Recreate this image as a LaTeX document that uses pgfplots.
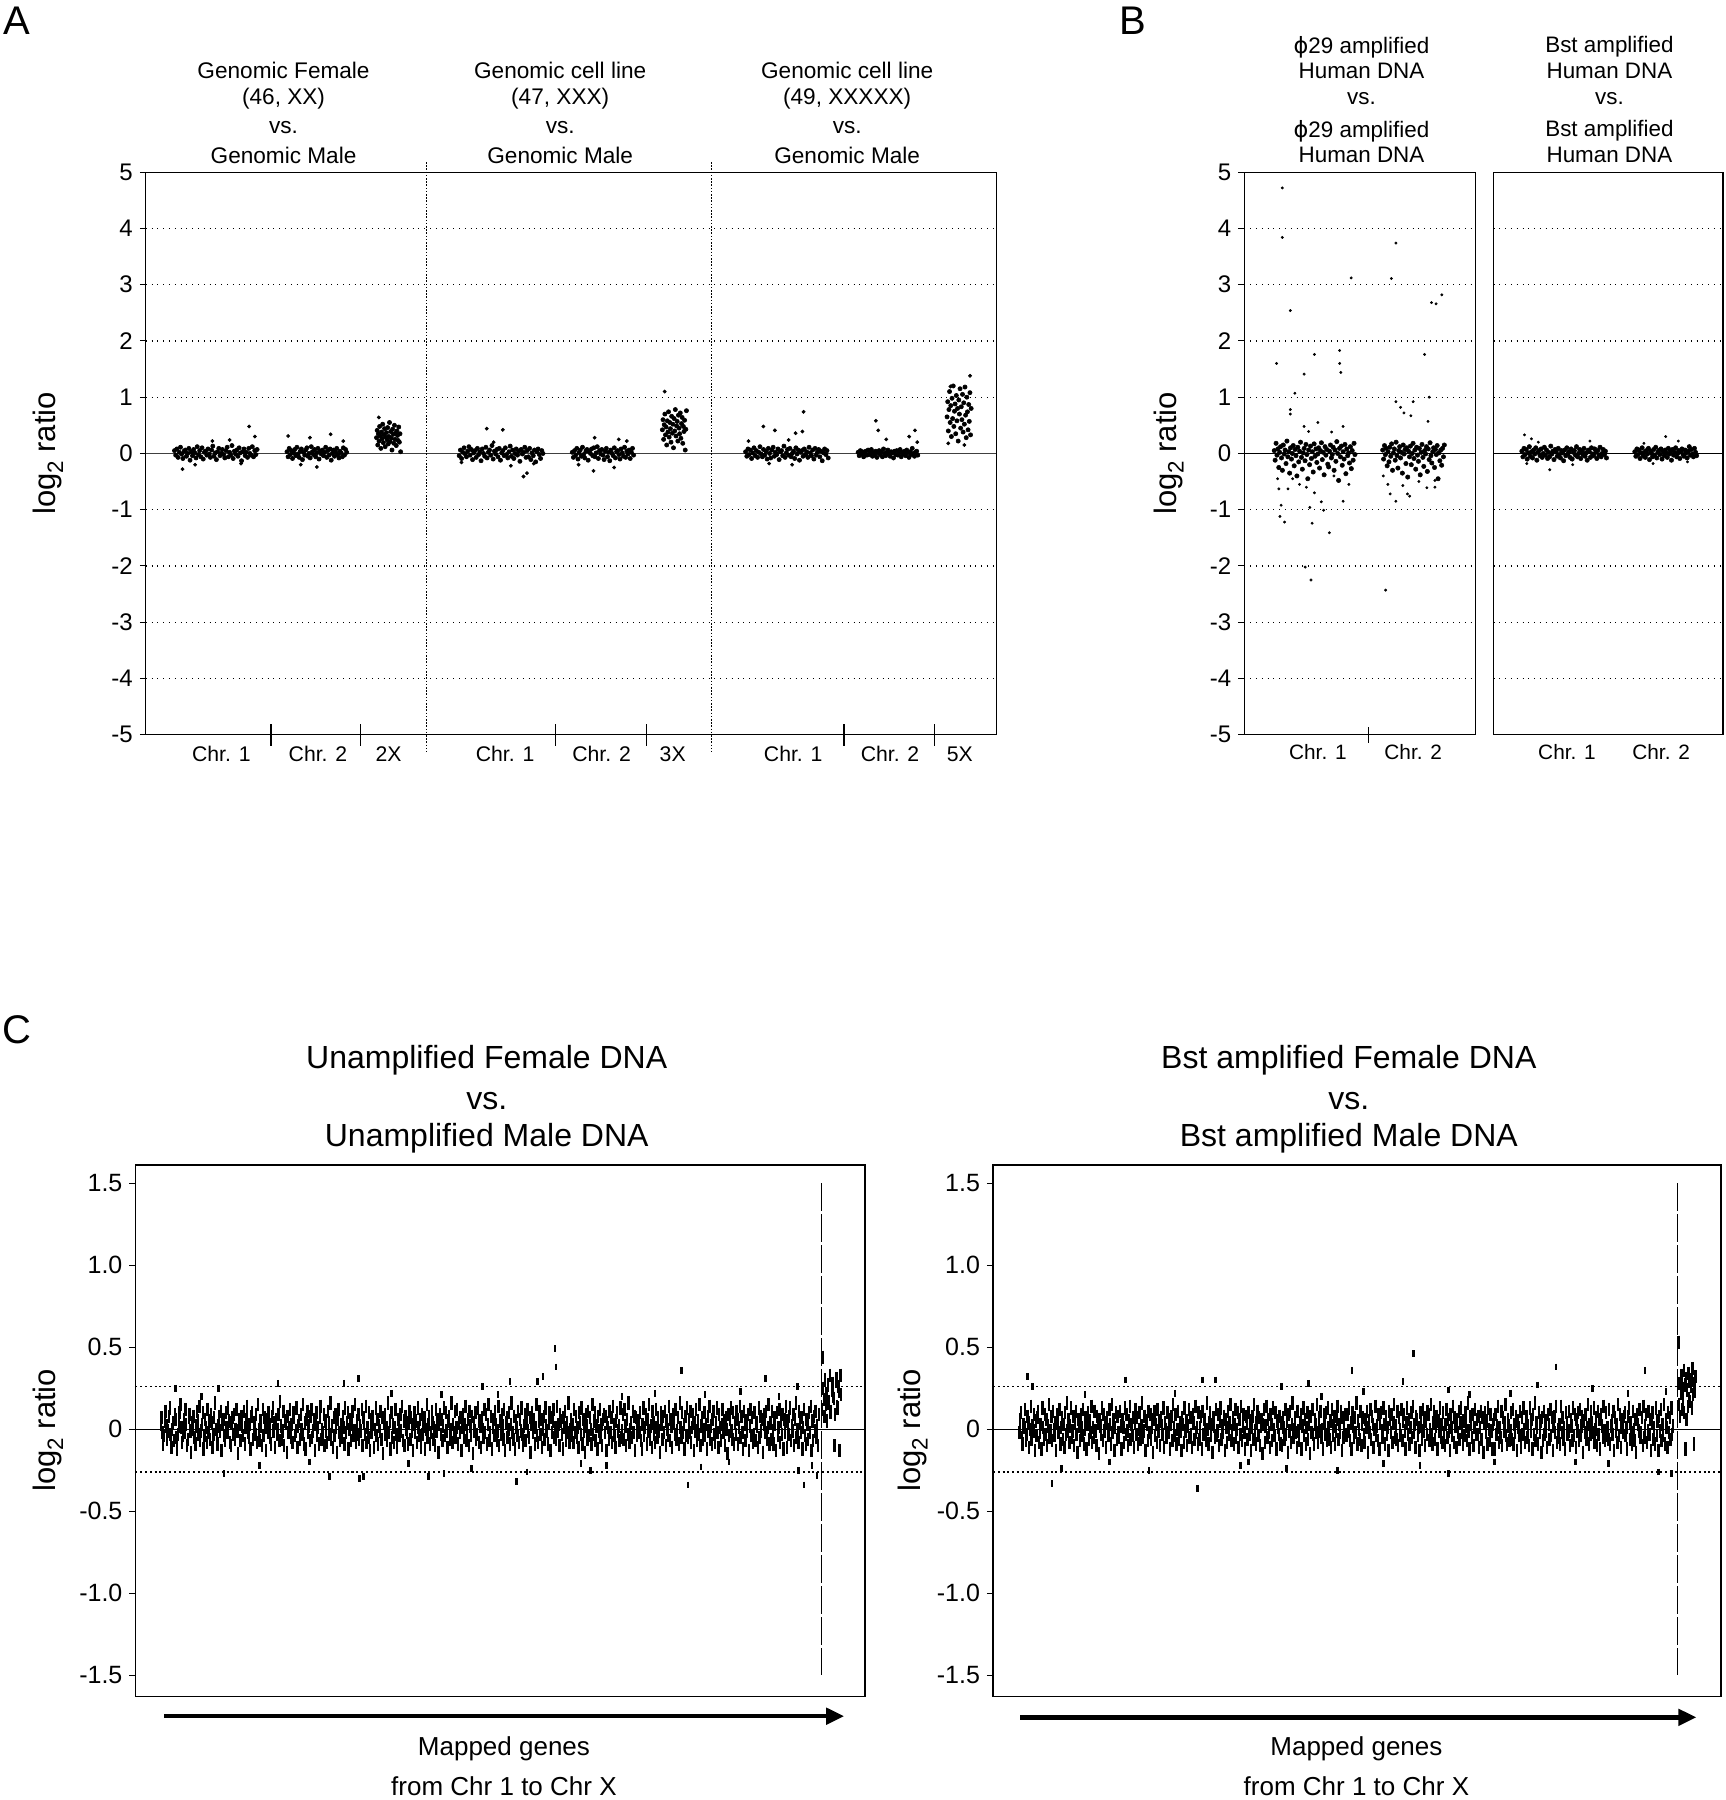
\documentclass[border=0pt]{standalone}
\usepackage{fontspec}
\setmainfont{Liberation Sans}
\newfontfamily\dejavu{DejaVu Sans}
\usepackage{graphicx}
\usepackage{pgfplots}
\pgfplotsset{compat=1.18}
\usetikzlibrary{arrows.meta}

\newcommand\fsz[1]{\fontsize{#1}{#1}\selectfont}
\newcommand\logtwo{log\raisebox{-0.45ex}{\scalebox{0.72}{2}} ratio}
\newcommand\phit{{\dejavu ϕ}}

\tikzset{
  zeroline/.style={black, line width=0.7pt},
  cutline/.style={black, line width=0.7pt, dash pattern=on 1pt off 1.4pt},
  divider/.style={black, line width=0.5pt, dash pattern=on 0.8pt off 0.8pt},
}

% y values are stored in hundredths of a log2 unit
\pgfplotsset{
  dotsA/.style={only marks, mark=*, mark size=1.05pt, line width=0.3pt, mark options={line width=0.3pt}, black},
  spotA/.style={only marks, mark=*, mark size=0.8pt, line width=0.3pt, mark options={line width=0.3pt}, black},
  dotsB/.style={only marks, mark=*, mark size=0.6pt, line width=0.25pt, mark options={line width=0.25pt}, black},
  bandB/.style={only marks, mark=*, mark size=1.1pt, line width=0.25pt, mark options={line width=0.25pt}, black},
  dashC/.style={only marks, mark=|, mark size=3.3pt, line width=1.2pt, mark options={line width=1.2pt}, black},
  spotC/.style={only marks, mark=|, mark size=1.7pt, line width=1.3pt, mark options={line width=1.3pt}, black},
  logpanel/.style={
    scale only axis, anchor=south west, clip=false,
    height=281.19pt,
    ymin=-500, ymax=500,
    ytick={-500,-400,...,500},
    yticklabels={-5,-4,-3,-2,-1,0,1,2,3,4,5},
    xtick=\empty,
    ytick pos=left,
    tick align=outside,
    major tick length=3pt,
    tick style={black, line width=0.5pt},
    axis line style={line width=0.6pt},
    ymajorgrids,
    major grid style={black, line width=0.6pt, dash pattern=on 0.5pt off 2.4pt},
    yticklabel style={font=\fsz{12}},
  },
  genepanel/.style={
    scale only axis, anchor=south west, clip=false,
    height=265.69pt,
    ymin=-163, ymax=161,
    ytick={-150,-100,...,150},
    yticklabels={-1.5,-1.0,-0.5,0,0.5,1.0,1.5},
    xtick=\empty, ytick pos=left, tick align=outside, major tick length=3pt,
    tick style={black, line width=0.6pt},
    axis line style={line width=0.8pt},
    yticklabel style={font=\fsz{12.5}},
  },
}

\begin{document}
\begin{tikzpicture}
\path[use as bounding box] (0,0) rectangle (862.5pt,899.8pt);

% panel letters
\node[font=\fsz{20}] at (8.61pt,889.5pt) {A};
\node[font=\fsz{20}] at (566.4pt,889.5pt) {B};
\node[font=\fsz{20}] at (8.61pt,385.05pt) {C};

% ---------------- panel A ----------------
\node[font=\fsz{11.3}] at (141.74pt,864.79pt) {Genomic Female};
\node[font=\fsz{11.3}] at (141.74pt,850.45pt) {(46, XX)};
\node[font=\fsz{11.3}] at (141.74pt,836.10pt) {vs.};
\node[font=\fsz{11.3}] at (141.74pt,822.33pt) {Genomic Male};
\node[font=\fsz{11.3}] at (280.04pt,864.79pt) {Genomic cell line};
\node[font=\fsz{11.3}] at (280.04pt,850.45pt) {(47, XXX)};
\node[font=\fsz{11.3}] at (280.04pt,836.10pt) {vs.};
\node[font=\fsz{11.3}] at (280.04pt,822.33pt) {Genomic Male};
\node[font=\fsz{11.3}] at (423.50pt,864.79pt) {Genomic cell line};
\node[font=\fsz{11.3}] at (423.50pt,850.45pt) {(49, XXXXX)};
\node[font=\fsz{11.3}] at (423.50pt,836.10pt) {vs.};
\node[font=\fsz{11.3}] at (423.50pt,822.33pt) {Genomic Male};
\node[font=\fsz{15.5}, rotate=90] at (24.1pt,673.13pt) {\logtwo};

\node[font=\fsz{10.6}] at (110.64pt,522.78pt) {Chr. 1};
\node[font=\fsz{10.6}] at (158.96pt,522.78pt) {Chr. 2};
\node[font=\fsz{10.6}] at (194.25pt,522.78pt) {2X};
\node[font=\fsz{10.6}] at (252.49pt,522.78pt) {Chr. 1};
\node[font=\fsz{10.6}] at (300.70pt,522.78pt) {Chr. 2};
\node[font=\fsz{10.6}] at (336.28pt,522.78pt) {3X};
\node[font=\fsz{10.6}] at (396.53pt,522.78pt) {Chr. 1};
\node[font=\fsz{10.6}] at (444.91pt,522.78pt) {Chr. 2};
\node[font=\fsz{10.6}] at (479.85pt,522.78pt) {5X};

\begin{axis}[logpanel, at={(72.88pt,532.53pt)}, width=425.22pt, xmin=127, xmax=868]
\draw[black!75, line width=0.9pt] (axis cs:127,0) -- (axis cs:868,0);
\draw[divider] (axis cs:371.5,518) -- (axis cs:371.5,-530);
\draw[divider] (axis cs:619.5,518) -- (axis cs:619.5,-530);
\draw[line width=0.8pt] (axis cs:236,-520) -- (axis cs:236,-481);
\draw[line width=0.8pt] (axis cs:314,-520) -- (axis cs:314,-481);
\draw[line width=0.8pt] (axis cs:484,-520) -- (axis cs:484,-481);
\draw[line width=0.8pt] (axis cs:563,-520) -- (axis cs:563,-481);
\draw[line width=0.8pt] (axis cs:735,-520) -- (axis cs:735,-481);
\draw[line width=0.8pt] (axis cs:814,-520) -- (axis cs:814,-481);
% 46,XX: chromosome 1, chromosome 2, X
\addplot[dotsA] table[x expr=152+\coordindex*1.043, y=v, row sep=\\] {v\\
5\\-3\\8\\-7\\2\\11\\-1\\-9\\4\\6\\-5\\0\\9\\-12\\3\\-4\\7\\1\\-8\\12\\
-2\\5\\-6\\10\\-10\\2\\4\\-3\\8\\-1\\-7\\6\\13\\-5\\1\\-11\\3\\9\\-4\\0\\
7\\-2\\-8\\5\\11\\-6\\2\\-3\\14\\-9\\4\\-1\\6\\-5\\10\\1\\-13\\3\\8\\-4\\
2\\-7\\9\\0\\-3\\12\\-6\\5\\-2\\7\\};
\addplot[spotA] coordinates {(217,48) (222,30) (159,-28) (185,22) (200,24) (170,-20) (210,-18)};
\addplot[dotsA] table[x expr=250+\coordindex*0.963, y=v, row sep=\\] {v\\
3\\-6\\9\\-2\\5\\-9\\1\\7\\-4\\11\\-1\\-7\\4\\8\\-11\\2\\-3\\6\\10\\-5\\
0\\-8\\12\\3\\-2\\7\\-6\\1\\9\\-10\\4\\-1\\6\\-4\\2\\11\\-7\\5\\-3\\8\\
-12\\0\\6\\-5\\3\\9\\-2\\-8\\4\\1\\-6\\10\\-3\\7\\2\\};
\addplot[spotA] coordinates {(251,31) (288,34) (270,28) (276,-24) (262,-20) (299,22)};
\addplot[dotsA] table[x expr=328+\coordindex*0.538, y=v, row sep=\\] {v\\
28\\41\\15\\35\\22\\48\\31\\9\\38\\26\\52\\19\\33\\44\\12\\29\\37\\24\\46\\17\\
30\\55\\21\\39\\27\\6\\43\\34\\18\\50\\25\\36\\14\\40\\32\\23\\47\\20\\35\\3\\};
\addplot[spotA] coordinates {(330,64)};
% 47,XXX
\addplot[dotsA] table[x expr=400+\coordindex*1.058, y=v, row sep=\\] {v\\
-4\\6\\-9\\2\\10\\-1\\-6\\4\\12\\-3\\7\\-11\\1\\5\\-7\\9\\-2\\3\\-13\\8\\
0\\-5\\11\\-8\\2\\6\\-3\\14\\-10\\4\\-1\\7\\-6\\9\\-12\\1\\5\\-4\\10\\-2\\
-8\\3\\13\\-5\\6\\-9\\0\\8\\-3\\4\\-14\\7\\-1\\2\\11\\-7\\5\\-6\\9\\-11\\
1\\-4\\6\\-15\\3\\8\\-2\\-9\\5\\0\\};
\addplot[spotA] coordinates {(424,44) (438,42) (456,-41) (459,-35) (402,-16) (445,-22) (465,-18) (430,20)};
\addplot[dotsA] table[x expr=498.5+\coordindex*0.99, y=v, row sep=\\] {v\\
2\\-7\\5\\-3\\9\\-10\\1\\6\\-5\\11\\-2\\-8\\4\\7\\-12\\3\\0\\8\\-4\\10\\
-6\\1\\12\\-9\\5\\-1\\7\\-3\\-11\\4\\9\\-6\\2\\-13\\6\\0\\-4\\10\\-8\\3\\
5\\-2\\-10\\8\\1\\-5\\11\\-7\\4\\-1\\6\\-9\\2\\9\\-3\\};
\addplot[spotA] coordinates {(517,-31) (535,-25) (518,28) (539,25) (546,22) (504,-20)};
\addplot[dotsA] table[x expr=577+\coordindex*0.538, y=v, row sep=\\] {v\\
42\\60\\25\\51\\70\\33\\47\\15\\58\\38\\74\\29\\55\\44\\20\\66\\36\\52\\10\\62\\
40\\78\\31\\49\\57\\22\\68\\45\\35\\72\\27\\53\\64\\18\\48\\39\\59\\6\\43\\76\\};
\addplot[spotA] coordinates {(579,110)};
% 49,XXXXX
\addplot[dotsA] table[x expr=649.5+\coordindex*1.043, y=v, row sep=\\] {v\\
3\\-5\\8\\-2\\6\\-9\\1\\10\\-4\\5\\-7\\2\\12\\-1\\-6\\7\\-3\\4\\-10\\9\\
0\\-8\\6\\11\\-5\\2\\-2\\8\\-11\\3\\5\\-4\\13\\-7\\1\\7\\-3\\9\\-6\\0\\
4\\-9\\10\\-1\\6\\-12\\2\\5\\-5\\8\\-2\\3\\-7\\11\\1\\-4\\6\\-10\\9\\-3\\
2\\7\\-6\\4\\-13\\1\\8\\-2\\5\\-8\\};
\addplot[spotA] coordinates {(700,74) (665,48) (675,41) (699,39) (693,36) (652,22) (687,24) (670,-18) (690,-20)};
\addplot[dotsA] table[x expr=747.5+\coordindex*0.963, y=v, row sep=\\] {v\\
2\\-4\\5\\-1\\3\\-6\\1\\4\\-3\\6\\-2\\0\\7\\-5\\2\\-3\\4\\-7\\1\\5\\
-2\\3\\-6\\8\\0\\-4\\2\\6\\-1\\-5\\3\\1\\-8\\4\\-2\\5\\-3\\0\\7\\-6\\
2\\-1\\4\\-4\\6\\1\\-7\\3\\-2\\9\\0\\-5\\2\\4\\-3\\};
\addplot[spotA] coordinates {(763,58) (765,41) (797,41) (772,25) (792,30) (799,20)};
\addplot[dotsA] table[x expr=825+\coordindex*0.538, y=v, row sep=\\] {v\\
65\\92\\40\\78\\110\\55\\85\\30\\98\\62\\120\\48\\75\\88\\35\\103\\58\\80\\22\\95\\
70\\115\\45\\83\\60\\105\\38\\90\\52\\118\\68\\28\\100\\74\\42\\87\\57\\108\\33\\80\\};
\addplot[spotA] coordinates {(845,138) (828,119) (826,18) (840,15)};
\end{axis}

% ---------------- panel B ----------------
\node[font=\fsz{11.2}] at (680.59pt,876.27pt) {\phit29 amplified};
\node[font=\fsz{11.2}] at (680.59pt,864.22pt) {Human DNA};
\node[font=\fsz{11.2}] at (680.59pt,850.45pt) {vs.};
\node[font=\fsz{11.2}] at (680.59pt,834.38pt) {\phit29 amplified};
\node[font=\fsz{11.2}] at (680.59pt,822.33pt) {Human DNA};
\node[font=\fsz{11.2}] at (804.54pt,876.27pt) {Bst amplified};
\node[font=\fsz{11.2}] at (804.54pt,864.22pt) {Human DNA};
\node[font=\fsz{11.2}] at (804.54pt,850.45pt) {vs.};
\node[font=\fsz{11.2}] at (804.54pt,834.38pt) {Bst amplified};
\node[font=\fsz{11.2}] at (804.54pt,822.33pt) {Human DNA};
\node[font=\fsz{15.5}, rotate=90] at (584.18pt,673.13pt) {\logtwo};
\node[font=\fsz{10.4}] at (658.78pt,523.93pt) {Chr. 1};
\node[font=\fsz{10.4}] at (706.41pt,523.93pt) {Chr. 2};
\node[font=\fsz{10.4}] at (783.30pt,523.93pt) {Chr. 1};
\node[font=\fsz{10.4}] at (830.37pt,523.93pt) {Chr. 2};

\begin{axis}[logpanel, at={(622.05pt,532.53pt)}, width=115.34pt, xmin=1084, xmax=1285]
\draw[zeroline] (axis cs:1084,0) -- (axis cs:1285,0);
\draw[line width=0.8pt] (axis cs:1192,-514) -- (axis cs:1192,-486);
\addplot[bandB] table[x expr=1110+\coordindex*0.79, y=v, row sep=\\] {v\\
5\\-12\\18\\-3\\8\\-25\\2\\12\\-8\\-30\\15\\-1\\6\\-18\\22\\-6\\3\\-35\\10\\-10\\
0\\14\\-22\\7\\-4\\-40\\11\\-15\\4\\20\\-7\\-28\\1\\9\\-13\\16\\-2\\-45\\6\\-20\\
13\\-9\\3\\-33\\17\\-5\\8\\-16\\-1\\10\\-26\\5\\19\\-11\\2\\-38\\12\\-3\\7\\-19\\
-24\\4\\15\\-8\\-2\\11\\-30\\6\\-14\\21\\0\\-48\\9\\-6\\13\\-21\\3\\-10\\16\\-36\\
8\\-4\\1\\-17\\12\\-27\\5\\-12\\18\\-2\\};
\addplot[dotsB] coordinates {(1117,472) (1117,384) (1124,254) (1112,160) (1145,176) (1136,141)
 (1128,107) (1124,78) (1124,70) (1177,312) (1167,183) (1167,160) (1168,144) (1148,55) (1136,48)
 (1140,39) (1170,48) (1160,38) (1113,-45) (1114,-63) (1116,-92) (1115,-112) (1119,-122) (1122,-63)
 (1137,-202) (1142,-225) (1158,-141) (1143,-124) (1141,-96) (1151,-86) (1153,-101) (1170,-85)
 (1138,-60) (1145,-70) (1132,-55) (1126,-45) (1175,-55) (1162,-40)};
\addplot[bandB] table[x expr=1204.5+\coordindex*0.778, y=v, row sep=\\] {v\\
6\\-10\\14\\-2\\9\\-22\\3\\-15\\11\\-5\\17\\-30\\1\\8\\-12\\20\\-4\\-26\\5\\12\\
-8\\2\\-35\\15\\-1\\7\\-18\\10\\-42\\4\\-6\\13\\-20\\0\\18\\-9\\6\\-28\\11\\-3\\
-14\\9\\-38\\2\\16\\-7\\-23\\5\\-1\\12\\-32\\8\\-11\\19\\-4\\-17\\3\\10\\-25\\7\\
-2\\14\\-45\\1\\-13\\6\\-21\\9\\-6\\15\\};
\addplot[dotsB] coordinates {(1216,374) (1212,311) (1247,268) (1251,266) (1256,282) (1241,176)
 (1245,100) (1216,92) (1220,82) (1231,92) (1223,72) (1229,67) (1244,57) (1207,-243) (1211,-72)
 (1216,-85) (1226,-72) (1228,-76) (1243,-61) (1209,-55) (1222,-57) (1250,-60) (1236,-50)
 (1250,-48) (1205,-40)};
\end{axis}

\begin{axis}[logpanel, at={(746.58pt,532.53pt)}, width=114.77pt, xmin=1301, xmax=1501,
  yticklabels={}, major tick length=0pt]
\draw[zeroline] (axis cs:1301,0) -- (axis cs:1501,0);
\addplot[bandB] table[x expr=1325.7+\coordindex*0.933, y=v, row sep=\\] {v\\
4\\-6\\9\\-2\\7\\-10\\1\\12\\-5\\3\\-8\\6\\-1\\10\\-12\\2\\5\\-4\\8\\-7\\
0\\11\\-3\\6\\-9\\2\\-6\\13\\-1\\4\\-11\\7\\3\\-5\\9\\-2\\-8\\5\\1\\-13\\
6\\-4\\10\\-1\\3\\-7\\8\\-10\\2\\5\\-3\\12\\-6\\0\\7\\-9\\4\\-2\\9\\-5\\
1\\-12\\6\\3\\-7\\10\\-1\\-4\\8\\2\\-9\\5\\-3\\11\\-6\\0\\7\\-2\\4\\-8\\};
\addplot[dotsB] coordinates {(1328,33) (1334,26) (1340,20) (1350,-29) (1330,-18) (1385,22) (1370,-20)};
\addplot[bandB] table[x expr=1424.1+\coordindex*0.912, y=v, row sep=\\] {v\\
3\\-5\\8\\-2\\6\\-9\\1\\10\\-4\\2\\-7\\5\\-1\\9\\-11\\4\\0\\-6\\7\\-3\\
11\\-8\\2\\5\\-2\\8\\-10\\3\\-4\\6\\1\\-7\\9\\-1\\4\\-12\\7\\-3\\2\\10\\
-6\\0\\5\\-9\\3\\8\\-2\\-5\\6\\1\\-8\\4\\12\\-3\\7\\-1\\-6\\9\\2\\-4\\};
\addplot[dotsB] coordinates {(1451,30) (1432,18) (1462,22) (1440,-18) (1470,-15)};
\end{axis}

% ---------------- panel C ----------------
\node[font=\fsz{16}] at (243.31pt,369.6pt) {Unamplified Female DNA};
\node[font=\fsz{16}] at (243.31pt,349.6pt) {vs.};
\node[font=\fsz{16}] at (243.31pt,330.6pt) {Unamplified Male DNA};
\node[font=\fsz{16}] at (674.27pt,369.6pt) {Bst amplified Female DNA};
\node[font=\fsz{16}] at (674.27pt,349.6pt) {vs.};
\node[font=\fsz{16}] at (674.27pt,330.6pt) {Bst amplified Male DNA};
\node[font=\fsz{15.5}, rotate=90] at (24.1pt,184.78pt) {\logtwo};
\node[font=\fsz{15.5}, rotate=90] at (456.21pt,184.78pt) {\logtwo};

\draw[line width=2.2pt, -{Triangle[length=9pt,width=8pt]}] (82.06pt,41.89pt) -- (422.01pt,41.89pt);
\draw[line width=2.2pt, -{Triangle[length=9pt,width=8pt]}] (509.92pt,41.32pt) -- (848.04pt,41.32pt);
\node[font=\fsz{13}] at (251.92pt,25.82pt) {Mapped genes};
\node[font=\fsz{13}] at (251.92pt,6.9pt) {from Chr 1 to Chr X};
\node[font=\fsz{13}] at (678.06pt,25.82pt) {Mapped genes};
\node[font=\fsz{13}] at (678.06pt,6.9pt) {from Chr 1 to Chr X};

% genes are plotted in genome order; 800 autosomal genes span 0..500 on x
\begin{axis}[genepanel, at={(67.71pt,51.65pt)}, width=364.68pt, xmin=-19.16, xmax=534.3]
\draw[zeroline] (axis cs:-19.16,0) -- (axis cs:534.3,0);
\draw[cutline] (axis cs:-19.16,26) -- (axis cs:534.3,26);
\draw[cutline] (axis cs:-19.16,-26) -- (axis cs:534.3,-26);
\draw[black, line width=0.6pt, dash pattern=on 14pt off 1.5pt] (axis cs:501.1,150) -- (axis cs:501.1,-150);
\addplot[dashC] table[x expr=\coordindex*0.625, y=v, row sep=\\] {v\\
3\\7\\-2\\-9\\-4\\5\\11\\2\\-6\\-1\\8\\13\\-3\\-11\\0\\4\\-7\\9\\6\\-5\\
-12\\-3\\2\\10\\15\\1\\-8\\-4\\6\\-2\\12\\3\\-10\\-6\\7\\9\\-1\\-14\\4\\0\\
8\\-5\\-9\\2\\11\\5\\-3\\14\\-7\\-1\\3\\10\\-12\\-4\\6\\1\\-8\\12\\-2\\5\\
-6\\9\\4\\-11\\-3\\7\\16\\0\\-5\\-9\\2\\8\\-1\\11\\-13\\3\\6\\-4\\-7\\10\\
1\\-2\\13\\5\\-8\\-10\\4\\7\\-3\\9\\-6\\0\\12\\-1\\-15\\6\\3\\-7\\8\\2\\
-4\\11\\-9\\1\\6\\14\\-2\\-5\\3\\-12\\8\\10\\-6\\-1\\4\\-3\\9\\-8\\15\\0\\
-7\\5\\2\\-10\\12\\-4\\7\\1\\-13\\6\\-2\\10\\3\\-5\\-9\\8\\13\\-1\\4\\-11\\
6\\-3\\0\\9\\-7\\17\\2\\-6\\-1\\11\\-10\\5\\4\\-14\\8\\-2\\1\\12\\-5\\3\\
-8\\10\\7\\-4\\-1\\13\\-11\\2\\5\\-6\\9\\0\\-3\\15\\-9\\4\\-12\\6\\11\\-2\\
2\\-7\\8\\12\\-5\\-1\\6\\-13\\3\\10\\-4\\1\\-9\\7\\14\\-6\\0\\-2\\9\\-10\\
5\\-1\\-8\\11\\4\\-3\\16\\-6\\2\\-11\\7\\-4\\9\\1\\-14\\6\\12\\-2\\-7\\3\\
-5\\8\\1\\-9\\13\\-2\\4\\10\\-12\\0\\6\\-7\\3\\11\\-4\\-1\\15\\-8\\5\\-3\\
9\\-6\\2\\-1\\12\\-10\\7\\4\\-3\\14\\-8\\1\\-5\\10\\-13\\6\\-2\\8\\3\\-11\\
0\\13\\-4\\6\\-9\\2\\-1\\11\\-6\\7\\-15\\4\\9\\-3\\1\\-7\\16\\-2\\5\\-12\\
10\\-5\\3\\-8\\1\\12\\-3\\-11\\6\\2\\-4\\9\\-1\\14\\-7\\5\\-10\\8\\0\\-2\\
-9\\4\\11\\-6\\7\\-1\\-13\\3\\10\\-2\\5\\-8\\13\\1\\-4\\6\\-11\\9\\-3\\2\\
7\\-12\\0\\15\\-5\\3\\8\\-9\\-2\\11\\4\\-6\\1\\-10\\12\\-1\\6\\-14\\3\\9\\
-3\\6\\-7\\2\\13\\-4\\10\\-1\\-11\\5\\8\\-6\\0\\16\\-8\\3\\-2\\11\\-5\\1\\
12\\-9\\4\\-2\\7\\-13\\1\\9\\-5\\3\\14\\-7\\-1\\6\\-10\\11\\2\\-4\\8\\-15\\
4\\-1\\10\\-6\\-3\\13\\-8\\5\\2\\-11\\7\\0\\-5\\12\\-2\\9\\-9\\3\\15\\-7\\
-2\\8\\-12\\1\\6\\-4\\11\\3\\-7\\-1\\14\\-10\\5\\-3\\9\\2\\-6\\12\\-13\\4\\
7\\-5\\0\\10\\-9\\3\\16\\-2\\-6\\8\\-12\\5\\1\\-4\\11\\-8\\6\\-1\\13\\-3\\
-10\\2\\9\\-7\\4\\12\\-1\\-5\\7\\-14\\3\\10\\-2\\6\\-9\\1\\15\\-4\\-8\\5\\
11\\-3\\6\\-11\\0\\8\\-6\\13\\2\\-1\\-9\\4\\10\\-13\\7\\-2\\5\\12\\-5\\1\\
-6\\14\\-1\\3\\-10\\9\\5\\-3\\-12\\7\\1\\11\\-7\\4\\-2\\16\\-8\\0\\6\\-4\\
3\\-8\\12\\-2\\8\\-5\\1\\-11\\10\\4\\-3\\13\\-9\\6\\-1\\-14\\9\\2\\-6\\11\\
-4\\7\\0\\-9\\15\\-3\\5\\10\\-7\\2\\-12\\8\\-1\\12\\-5\\3\\-10\\6\\9\\-2\\
8\\-13\\4\\1\\-6\\11\\-2\\7\\-8\\14\\3\\-4\\-11\\5\\10\\-1\\2\\-7\\13\\-5\\
-1\\9\\-6\\12\\2\\-10\\6\\-3\\16\\-8\\0\\4\\-5\\11\\-2\\8\\-13\\7\\-4\\3\\
5\\-2\\10\\-7\\-12\\3\\13\\-4\\1\\9\\-9\\6\\-1\\15\\-6\\2\\-11\\11\\4\\-3\\
-8\\12\\1\\-5\\7\\-1\\-14\\10\\3\\-6\\8\\-2\\11\\-10\\5\\0\\-4\\14\\-7\\6\\
2\\-11\\9\\4\\-3\\12\\-6\\-1\\7\\-9\\16\\1\\-5\\10\\-2\\3\\-12\\8\\-4\\13\\
-5\\6\\-2\\11\\-8\\1\\9\\-13\\4\\-1\\12\\-7\\5\\-3\\15\\-10\\2\\7\\-6\\0\\
10\\-4\\3\\-12\\8\\-1\\14\\-6\\2\\-9\\6\\11\\-3\\-8\\4\\13\\-2\\-11\\9\\1\\
-7\\3\\12\\-2\\5\\-10\\7\\0\\-15\\9\\-4\\6\\13\\-1\\-6\\10\\-9\\4\\-3\\11\\
6\\-9\\1\\14\\-5\\8\\-2\\-12\\11\\3\\-7\\5\\-1\\9\\-13\\2\\12\\-4\\7\\-8\\
-3\\10\\-7\\4\\2\\-11\\13\\-5\\8\\-1\\6\\-14\\9\\3\\-2\\11\\-6\\1\\15\\-9\\
4\\-6\\11\\-1\\-9\\7\\3\\-13\\10\\-4\\1\\12\\-8\\5\\-3\\9\\-12\\6\\-2\\14\\
-11\\5\\-3\\8\\13\\-7\\2\\-1\\9\\-10\\6\\16\\-5\\0\\-8\\11\\4\\-2\\7\\-12\\
1\\12\\-4\\-9\\6\\3\\-6\\10\\-2\\14\\-13\\5\\-7\\8\\-1\\11\\-5\\2\\-10\\9\\};
\addplot[spotC] coordinates {(299,49) (300,38) (395,36) (459,31) (286,29) (290,32) (150,31) (139,28)
 (89,28) (11,25) (44,25) (265,29) (244,26) (483,26) (440,23) (48,-27) (128,-29) (154,-29) (203,-29)
 (236,-24) (278,-26) (326,-25) (410,-23) (484,-25) (400,-34) (488,-34) (270,-32) (151,-30) (215,-27)
 (75,-22) (175,22) (213,21) (319,-21) (375,22) (431,-20) (350,20) (31,20) (113,-20) (188,-21)
 (256,21) (338,-22) (413,21) (469,20) (494,-22) (498,-28)};
% X chromosome genes
\addplot[dashC] coordinates {(501.6,12) (502.1,25) (502.6,44) (503.1,18) (503.6,8) (504.1,30)
 (504.6,15) (505.1,22) (505.6,5) (506.1,27) (506.6,16) (507.1,17) (507.6,33) (508.1,10) (508.6,11)
 (509.1,24) (509.6,28) (510.1,20) (510.6,19) (511.1,-10) (511.6,9) (512.1,29) (512.6,31) (513.1,14)
 (513.6,13) (514.1,26) (514.6,23) (515.1,-13) (515.6,33) (516.1,21)};
\end{axis}

\begin{axis}[genepanel, at={(496.38pt,51.65pt)}, width=363.82pt, xmin=-20.17, xmax=535.8]
\draw[zeroline] (axis cs:-20.17,0) -- (axis cs:535.8,0);
\draw[cutline] (axis cs:-20.17,26) -- (axis cs:535.8,26);
\draw[cutline] (axis cs:-20.17,-26) -- (axis cs:535.8,-26);
\draw[black, line width=0.6pt, dash pattern=on 14pt off 1.5pt] (axis cs:502.5,150) -- (axis cs:502.5,-150);
\addplot[dashC] table[x expr=\coordindex*0.625, y=v, row sep=\\] {v\\
-2\\6\\10\\-5\\-9\\3\\1\\12\\-7\\-3\\8\\4\\-11\\0\\14\\-6\\2\\-1\\9\\-13\\
5\\-4\\7\\11\\-8\\-2\\3\\-12\\13\\1\\-6\\9\\-3\\6\\-10\\2\\15\\-5\\-1\\8\\
-7\\11\\0\\-4\\4\\-13\\9\\5\\-2\\12\\-9\\1\\7\\-6\\3\\-11\\10\\-3\\16\\-1\\
6\\-8\\2\\13\\-5\\-1\\8\\-10\\4\\11\\-3\\-14\\6\\2\\-7\\9\\1\\-4\\12\\-9\\
0\\7\\-12\\3\\10\\-6\\5\\-2\\14\\-8\\1\\-5\\11\\-1\\-10\\8\\4\\-15\\6\\2\\
-3\\13\\-7\\9\\-1\\4\\-11\\7\\0\\-4\\12\\3\\-9\\15\\-2\\6\\-13\\1\\10\\-6\\
8\\-2\\-5\\11\\2\\-12\\6\\1\\-8\\13\\-3\\9\\-1\\-10\\5\\14\\-6\\3\\-4\\7\\
-11\\4\\12\\-3\\7\\-9\\0\\10\\-6\\2\\16\\-5\\-1\\8\\-13\\5\\3\\-7\\11\\-2\\
9\\-6\\1\\-14\\6\\11\\-4\\3\\-8\\12\\-1\\5\\-10\\7\\2\\-3\\13\\-11\\4\\0\\
-5\\10\\-2\\6\\-12\\3\\8\\-7\\15\\1\\-4\\9\\-9\\0\\11\\-6\\4\\-1\\-13\\7\\
3\\-8\\13\\-1\\5\\-10\\2\\12\\-5\\7\\-3\\-11\\9\\4\\-6\\14\\-2\\1\\-9\\10\\
-6\\1\\8\\-12\\11\\-3\\6\\-1\\-7\\16\\0\\-9\\4\\10\\-4\\3\\-14\\7\\2\\-5\\
12\\-4\\-1\\9\\-10\\5\\13\\-6\\2\\-2\\8\\-13\\6\\1\\-8\\11\\-3\\4\\15\\-7\\
-1\\7\\-9\\3\\12\\-5\\0\\10\\-11\\6\\-3\\14\\-7\\2\\9\\-2\\-12\\8\\4\\-6\\
10\\-3\\5\\-13\\1\\8\\-6\\15\\-1\\-9\\4\\11\\-4\\7\\-10\\2\\6\\-15\\3\\12\\
-8\\2\\14\\-5\\6\\-2\\-11\\9\\3\\-7\\13\\0\\-4\\10\\-12\\5\\1\\-3\\8\\-9\\
4\\-10\\7\\1\\-6\\12\\-3\\5\\-14\\9\\-1\\11\\-8\\3\\16\\-5\\0\\7\\-2\\-11\\
11\\-1\\-7\\4\\9\\-12\\2\\13\\-4\\6\\-9\\1\\10\\-6\\3\\-15\\8\\-2\\12\\-3\\
-9\\6\\3\\-2\\15\\-8\\7\\-1\\11\\-5\\0\\-12\\9\\4\\-3\\10\\-7\\13\\1\\-6\\
5\\-11\\12\\-4\\2\\8\\-9\\-1\\6\\14\\-6\\3\\-2\\11\\-13\\7\\-5\\1\\9\\-3\\
-4\\9\\-1\\13\\-7\\4\\-12\\10\\2\\-5\\7\\-2\\16\\-9\\5\\0\\-6\\11\\-10\\3\\
7\\-3\\-8\\6\\1\\11\\-14\\5\\-2\\12\\-6\\8\\3\\-11\\0\\14\\-4\\2\\-7\\9\\
-12\\4\\10\\-1\\-5\\13\\3\\-9\\8\\-3\\1\\-13\\11\\6\\-2\\9\\-8\\4\\15\\-5\\
2\\-6\\11\\-10\\7\\0\\-4\\12\\-7\\5\\9\\-1\\-12\\4\\13\\-3\\6\\-9\\1\\10\\
-5\\14\\-2\\3\\-11\\8\\6\\-4\\1\\-13\\10\\2\\-6\\12\\-1\\7\\-10\\5\\-3\\11\\
9\\-7\\0\\15\\-3\\-9\\4\\11\\-6\\2\\8\\-12\\5\\-1\\13\\-5\\3\\-8\\10\\-2\\
-10\\3\\12\\-5\\6\\-1\\-13\\9\\1\\-4\\14\\-8\\7\\2\\-11\\6\\-2\\11\\-6\\4\\
13\\-2\\-9\\5\\-4\\10\\2\\-7\\16\\-1\\-12\\8\\3\\-5\\9\\-10\\1\\12\\-3\\6\\
-3\\8\\-11\\1\\11\\-6\\7\\-14\\4\\10\\-2\\5\\-9\\13\\0\\-7\\9\\-1\\-12\\3\\
6\\-12\\9\\-3\\2\\14\\-8\\1\\-5\\11\\-10\\7\\-1\\4\\15\\-4\\-9\\6\\2\\-7\\
-1\\10\\-6\\12\\-9\\3\\-2\\8\\-13\\5\\1\\-4\\11\\-11\\7\\-3\\13\\0\\-8\\4\\
8\\-5\\2\\-10\\13\\-1\\6\\-12\\9\\-3\\16\\-7\\4\\1\\-9\\10\\-2\\5\\-14\\7\\
-7\\11\\-3\\5\\-1\\-11\\9\\3\\-6\\12\\-4\\7\\-13\\2\\8\\-2\\14\\-8\\0\\-5\\
3\\-9\\14\\-2\\7\\-6\\1\\-12\\10\\4\\-3\\-1\\11\\-10\\6\\2\\-7\\13\\-4\\9\\
-11\\6\\-1\\10\\-7\\12\\-4\\2\\8\\-14\\5\\-2\\9\\-6\\1\\15\\-9\\3\\-3\\11\\
4\\-2\\13\\-8\\0\\7\\-10\\11\\-3\\6\\-12\\9\\2\\-5\\14\\-1\\-7\\10\\-4\\1\\
-6\\12\\-9\\2\\5\\-3\\11\\-13\\7\\-1\\3\\-8\\15\\-4\\9\\-11\\1\\6\\-2\\8\\
10\\-4\\1\\-12\\8\\13\\-6\\4\\-2\\-9\\11\\0\\-7\\6\\-14\\9\\3\\-1\\12\\-5\\
-2\\7\\-10\\14\\-5\\2\\9\\-8\\-1\\11\\-3\\6\\-13\\4\\10\\-6\\1\\-9\\13\\-4\\
5\\-13\\8\\-1\\12\\-7\\3\\-4\\15\\-9\\6\\1\\-11\\10\\-2\\7\\-6\\13\\-3\\2\\};
\addplot[spotC] coordinates {(301,46) (410,38) (478,36) (254,36) (6,32) (81,30) (140,30) (150,30)
 (221,28) (293,29) (396,27) (10,26) (200,26) (328,24) (438,25) (32,-24) (99,-25) (204,-24) (243,-25)
 (328,-27) (488,-26) (25,-33) (136,-36) (498,-27) (69,-20) (169,-22) (278,-21) (363,-20) (375,22)
 (50,21) (119,22) (231,20) (344,21) (450,-21) (465,22) (175,-20) (263,23) (306,-22) (425,-20) (494,23)};
% X chromosome genes
\addplot[dashC] coordinates {(503.4,53) (503.9,15) (504.3,28) (504.8,8) (505.2,22) (505.7,33)
 (506.1,12) (506.6,25) (507.0,18) (507.5,36) (507.9,10) (508.4,27) (508.8,-12) (509.3,31) (509.7,6)
 (510.2,24) (510.6,14) (511.1,34) (511.5,19) (512.0,29) (512.4,17) (512.9,26) (513.3,30) (513.8,13)
 (514.2,37) (514.7,21) (515.1,-9) (515.6,28) (516.0,23) (516.5,32)};
\end{axis}
\end{tikzpicture}
\end{document}
